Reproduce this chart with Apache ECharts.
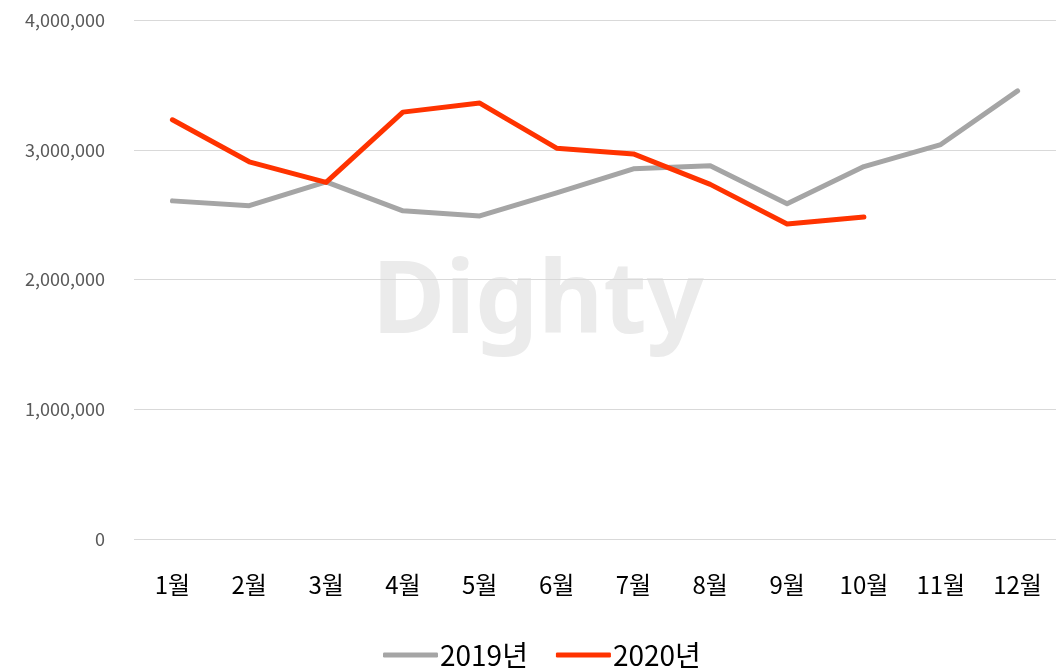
<!DOCTYPE html>
<html>
<head>
<meta charset="utf-8">
<script src="https://cdn.jsdelivr.net/npm/echarts@6/dist/echarts.min.js"></script>
<style>
  html, body { margin: 0; padding: 0; background: #fff; }
  #chart { width: 1056px; height: 669px; }
</style>
</head>
<body>
<div id="chart"></div>
<script>
const months = ['1월', '2월', '3월', '4월', '5월', '6월', '7월', '8월', '9월', '10월', '11월', '12월'];
const series2019 = [2606000, 2569000, 2752000, 2529000, 2490000, 2667000, 2853000, 2876000, 2583000, 2870000, 3040000, 3454000];
const series2020 = [3231000, 2907000, 2748000, 3290000, 3360000, 3012000, 2968000, 2733000, 2428000, 2482000];
const seriesNames = ['2019년', '2020년'];

const FONT = '"Noto Sans CJK KR", "Noto Sans", sans-serif';

const chart = echarts.init(document.getElementById('chart'));
chart.setOption({
  animation: false,
  color: ['#a5a5a5', '#ff3300'],
  textStyle: { fontFamily: FONT },
  grid: { left: 134, right: 0, top: 20, bottom: 130 },
  graphic: [{
    type: 'text',
    left: 372,
    top: 255,
    z: -10,
    silent: true,
    style: {
      text: 'Dighty',
      fontSize: 100,
      fontWeight: 'bold',
      fontFamily: '"Noto Sans", sans-serif',
      fill: '#ebebeb'
    }
  }],
  legend: {
    bottom: 0,
    left: 383,
    padding: 0,
    icon: 'roundRect',
    itemWidth: 55,
    itemHeight: 5,
    itemGap: 28,
    data: seriesNames,
    textStyle: { fontSize: 28, color: '#000', padding: [0, 0, 0, -3] }
  },
  xAxis: {
    type: 'category',
    data: months,
    boundaryGap: true,
    axisLine: { show: false },
    axisTick: { show: false },
    axisLabel: { fontSize: 24, color: '#000', margin: 34 }
  },
  yAxis: {
    type: 'value',
    min: 0,
    max: 4000000,
    interval: 1000000,
    axisLine: { show: false },
    axisTick: { show: false },
    axisLabel: {
      fontSize: 18,
      color: '#595959',
      margin: 29,
      formatter: (v) => v.toLocaleString('en-US')
    },
    splitLine: { lineStyle: { color: '#d9d9d9', width: 1 } }
  },
  series: [
    {
      name: seriesNames[0],
      type: 'line',
      data: series2019,
      symbol: 'none',
      lineStyle: { width: 5, cap: 'round', join: 'round' }
    },
    {
      name: seriesNames[1],
      type: 'line',
      data: series2020,
      symbol: 'none',
      lineStyle: { width: 5, cap: 'round', join: 'round' }
    }
  ]
});
</script>
</body>
</html>
